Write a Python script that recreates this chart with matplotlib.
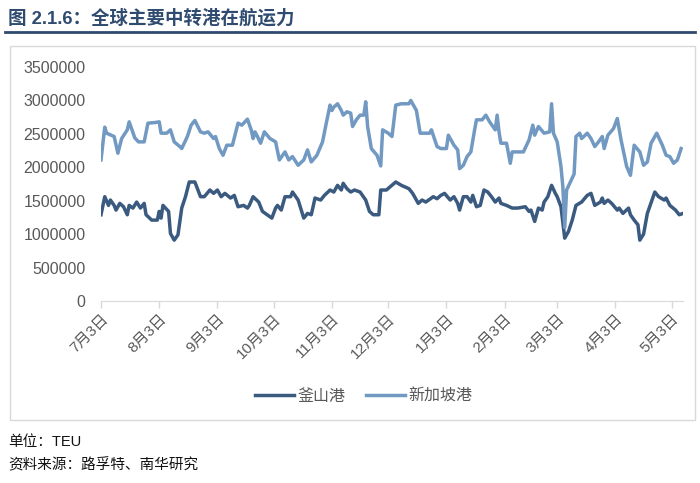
import numpy as np
import matplotlib
matplotlib.use('agg')
import matplotlib.pyplot as plt
from matplotlib.lines import Line2D
from matplotlib.patches import Rectangle

plt.rcParams['font.family'] = ['Liberation Sans', 'Noto Sans CJK SC', 'DejaVu Sans']

START = np.datetime64('2022-07-03')

# days since 7/3 and capacity in TEU
busan_days = [0, 2, 4, 5, 7, 8, 10, 12, 14, 15, 17, 19, 21, 23, 24, 27, 30, 31, 32, 33,
              36, 37, 39, 41, 43, 45, 47, 50, 53, 55, 58, 60, 62, 64, 66, 69, 71, 73, 76, 78,
              79, 81, 84, 86, 91, 93, 94, 96, 98, 101, 102, 105, 108, 110, 112, 114, 117, 119, 122, 124,
              126, 128, 129, 131, 133, 135, 138, 141, 143, 145, 148, 149, 152, 157, 160, 164, 166, 169, 171, 173,
              177, 179, 181, 183, 186, 188, 190, 191, 193, 195, 197, 198, 200, 202, 204, 206, 208, 210, 212, 213,
              216, 219, 222, 226, 228, 229, 231, 233, 235, 236, 238, 240, 242, 243, 245, 247, 249, 251, 253, 256,
              259, 261, 263, 266, 267, 268, 270, 272, 275, 276, 278, 281, 282, 284, 286, 287, 289, 291, 295, 297,
              300, 301, 303, 306, 308, 310]
busan = [1290000, 1560000, 1430000, 1510000, 1430000, 1360000, 1460000, 1410000, 1290000, 1430000,
         1390000, 1480000, 1390000, 1460000, 1290000, 1210000, 1210000, 1340000, 1240000, 1430000,
         1340000, 1010000, 910000, 990000, 1390000, 1560000, 1780000, 1780000, 1560000, 1560000,
         1660000, 1610000, 1660000, 1560000, 1610000, 1540000, 1580000, 1410000, 1430000, 1390000,
         1430000, 1560000, 1480000, 1340000, 1240000, 1390000, 1430000, 1360000, 1560000, 1560000,
         1630000, 1510000, 1240000, 1310000, 1290000, 1540000, 1510000, 1580000, 1660000, 1630000,
         1730000, 1660000, 1760000, 1680000, 1630000, 1660000, 1630000, 1510000, 1340000, 1290000,
         1290000, 1660000, 1660000, 1780000, 1730000, 1680000, 1610000, 1460000, 1510000, 1480000,
         1560000, 1530000, 1580000, 1610000, 1510000, 1560000, 1460000, 1360000, 1560000, 1560000,
         1480000, 1580000, 1410000, 1430000, 1660000, 1630000, 1560000, 1480000, 1540000, 1460000,
         1430000, 1390000, 1390000, 1410000, 1340000, 1360000, 1190000, 1390000, 1360000, 1480000,
         1560000, 1730000, 1610000, 1560000, 1410000, 940000, 1040000, 1210000, 1430000, 1480000,
         1580000, 1610000, 1430000, 1480000, 1540000, 1460000, 1510000, 1460000, 1360000, 1390000,
         1310000, 1390000, 1290000, 1210000, 1140000, 910000, 1000000, 1310000, 1630000, 1560000,
         1510000, 1540000, 1430000, 1360000, 1290000, 1310000]

singapore_days = [0, 2, 3, 7, 9, 11, 14, 15, 18, 20, 23, 25, 29, 31, 32, 35, 37, 39, 42, 43,
                  46, 48, 50, 53, 55, 57, 60, 61, 63, 65, 67, 70, 73, 75, 78, 80, 81, 82, 83, 85,
                  87, 90, 93, 95, 98, 100, 102, 105, 108, 110, 112, 115, 118, 120, 122, 123, 124, 126, 128, 129,
                  131, 133, 134, 136, 138, 140, 141, 142, 144, 147, 149, 150, 153, 155, 157, 160, 164, 165, 168, 170,
                  173, 175, 176, 179, 181, 184, 185, 188, 190, 191, 193, 195, 197, 199, 200, 203, 205, 207, 210, 211,
                  212, 213, 216, 218, 219, 225, 228, 230, 231, 233, 236, 239, 240, 241, 243, 245, 246, 247, 248, 250,
                  252, 253, 255, 256, 259, 261, 263, 265, 267, 268, 270, 273, 275, 277, 280, 282, 284, 287, 289, 291,
                  293, 296, 299, 301, 303, 305, 307, 309]
singapore = [2110000, 2600000, 2510000, 2460000, 2210000, 2430000, 2560000, 2680000, 2440000, 2380000,
             2380000, 2660000, 2670000, 2680000, 2510000, 2510000, 2560000, 2380000, 2310000, 2280000,
             2460000, 2630000, 2700000, 2530000, 2510000, 2530000, 2430000, 2460000, 2280000, 2180000,
             2330000, 2330000, 2660000, 2630000, 2720000, 2560000, 2430000, 2530000, 2480000, 2360000,
             2530000, 2430000, 2380000, 2110000, 2230000, 2110000, 2160000, 2030000, 2110000, 2260000,
             2080000, 2180000, 2380000, 2660000, 2930000, 2850000, 2900000, 2950000, 2850000, 2780000,
             2830000, 2810000, 2610000, 2710000, 2780000, 2780000, 2980000, 2610000, 2280000, 2180000,
             2020000, 2560000, 2510000, 2460000, 2930000, 2950000, 2950000, 3000000, 2850000, 2510000,
             2510000, 2510000, 2560000, 2310000, 2280000, 2280000, 2480000, 2330000, 2260000, 1980000,
             2030000, 2160000, 2230000, 2560000, 2710000, 2710000, 2780000, 2680000, 2560000, 2780000,
             2530000, 2360000, 2360000, 2060000, 2230000, 2230000, 2410000, 2630000, 2480000, 2610000,
             2510000, 2530000, 2950000, 2510000, 2380000, 2010000, 1710000, 1100000, 1660000, 1780000,
             1900000, 2460000, 2510000, 2430000, 2510000, 2430000, 2310000, 2380000, 2460000, 2280000,
             2480000, 2580000, 2730000, 2410000, 2010000, 1880000, 2330000, 2230000, 2030000, 2080000,
             2360000, 2510000, 2330000, 2180000, 2160000, 2060000, 2110000, 2280000]

tick_dates = ['2022-07-03', '2022-08-03', '2022-09-03', '2022-10-03', '2022-11-03', '2022-12-03',
              '2023-01-03', '2023-02-03', '2023-03-03', '2023-04-03', '2023-05-03']
tick_labels = ['7月3日', '8月3日', '9月3日', '10月3日', '11月3日', '12月3日',
               '1月3日', '2月3日', '3月3日', '4月3日', '5月3日']
y_ticks = [0, 500000, 1000000, 1500000, 2000000, 2500000, 3000000, 3500000]

DARK = '#3B5A80'
LIGHT = '#7199C2'
GRAY = '#595959'
EDGE = '#D9D9D9'

fig = plt.figure(figsize=(7, 4.83), dpi=100)

# title and rule under it
fig.text(0.012, 0.962, '图 2.1.6：全球主要中转港在航运力', fontsize=13.3, fontweight='bold',
         color='#2F4B70', va='center', ha='left')
fig.add_artist(Line2D([0.007, 0.993], [0.934, 0.934], color='#2F4B70', lw=2))

# chart frame
fig.add_artist(Rectangle((0.014, 0.130), 0.979, 0.775, transform=fig.transFigure,
                         fill=False, edgecolor=EDGE, lw=1))

ax = fig.add_axes([101 / 700, 1 - 301 / 483, 582 / 700, 234 / 483])

bx = START + np.array(busan_days).astype('timedelta64[D]')
sx = START + np.array(singapore_days).astype('timedelta64[D]')
ax.plot(bx, busan, color=DARK, lw=2.5, label='釜山港', solid_joinstyle='round')
ax.plot(sx, singapore, color=LIGHT, lw=2.5, label='新加坡港', solid_joinstyle='round')

ax.set_xlim(START, START + np.timedelta64(310, 'D'))
ax.set_ylim(0, 3500000)
ax.set_yticks(y_ticks)
ax.set_yticklabels([str(v) for v in y_ticks])
ax.set_xticks(np.array(tick_dates, dtype='datetime64[D]'))
ax.set_xticklabels(tick_labels, rotation=45, ha='right', va='top', rotation_mode='anchor')

for side in ['top', 'right', 'left']:
    ax.spines[side].set_visible(False)
ax.spines['bottom'].set_color(EDGE)
ax.tick_params(axis='y', length=0, pad=11, labelsize=11.5, labelcolor=GRAY)
ax.tick_params(axis='x', length=5, width=1, color=EDGE, pad=3, labelsize=11, labelcolor=GRAY)

leg = fig.legend(loc='center', bbox_to_anchor=(0.52, 0.180), ncol=2, frameon=False,
                 handlelength=2.4, columnspacing=1.3, handletextpad=0.25,
                 prop={'family': ['Noto Sans CJK SC'], 'size': 11.5})
for t in leg.get_texts():
    t.set_color(GRAY)

fig.text(0.012, 0.085, '单位：TEU', fontsize=10.5, color='#111111', va='center')
fig.text(0.012, 0.038, '资料来源：路孚特、南华研究', fontsize=10.5, color='#111111', va='center')

fig.savefig('out.png', dpi=100)
